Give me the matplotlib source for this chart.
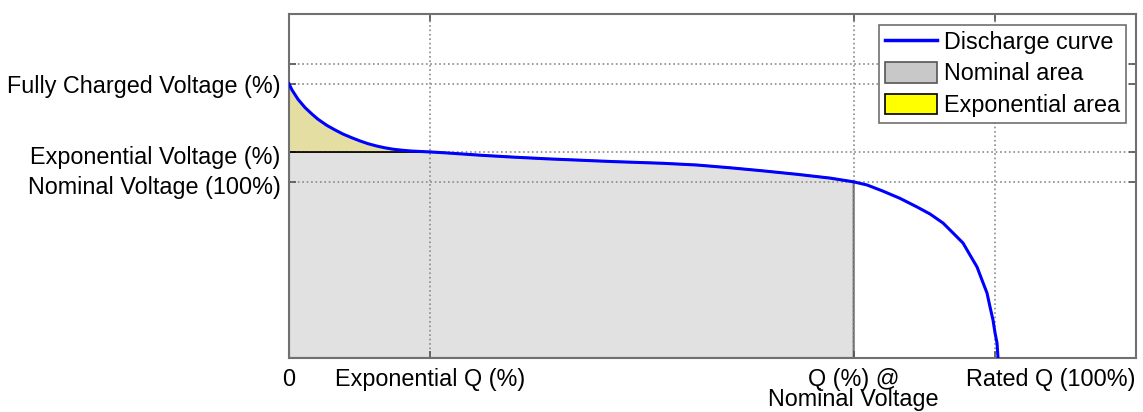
import matplotlib
matplotlib.use("Agg")
import matplotlib.pyplot as plt
from matplotlib.patches import Patch
from matplotlib.lines import Line2D
from matplotlib.transforms import ScaledTranslation

plt.rcParams['font.family'] = ['Liberation Sans', 'DejaVu Sans']

# ── discharge curve (capacity as fraction, voltage in % of axis span) ──
q_curve = [0.0, 0.0043, 0.0128, 0.0227, 0.0326, 0.0411, 0.0538, 0.0652,
           0.0765, 0.0893, 0.1006, 0.1119, 0.1247, 0.1360, 0.1473, 0.1601,
           0.1743, 0.2,
           0.2210, 0.2423, 0.2749, 0.3174, 0.3655, 0.4123, 0.4590, 0.5299,
           0.5780, 0.6248, 0.6716, 0.7197, 0.7665, 0.8,
           0.8189, 0.8416, 0.8657, 0.8898, 0.9082, 0.9266, 0.9408, 0.9549,
           0.9648, 0.9748, 0.9818, 0.9889, 0.9932, 0.9974, 1.0003, 1.0031,
           1.0045]
v_curve = [79.7, 77.9, 75.2, 72.8, 70.9, 69.4, 67.6, 66.3,
           65.1, 64.0, 63.1, 62.3, 61.6, 61.1, 60.7, 60.4,
           60.15, 59.9,
           59.65, 59.35, 58.9, 58.4, 57.9, 57.5, 57.1, 56.6,
           56.10, 55.3, 54.4, 53.4, 52.3, 51.2,
           50.3, 48.5, 46.4, 43.90, 41.86, 39.24, 36.34, 33.43,
           29.94, 26.45, 22.67, 18.90, 14.83, 11.05, 7.27, 4.36,
           0.0]

# characteristic points
Q_EXP, Q_NOM, Q_RATED = 0.2, 0.8, 1.0
V_NOM, V_EXP, V_FULL, V_TOP_TICK = 51.2, 59.9, 79.7, 85.5

x_ticks = [0, Q_EXP, Q_NOM, Q_RATED]
x_labels = ['0', 'Exponential Q (%)', 'Q (%) @\nNominal Voltage', 'Rated Q (100%)']
y_ticks = [V_NOM, V_EXP, V_FULL, V_TOP_TICK]
y_labels = ['Nominal Voltage (100%)', 'Exponential Voltage (%)',
            'Fully Charged Voltage (%)', '']
FS = 16.8

fig = plt.figure(figsize=(11.43, 4.12), dpi=100)
ax = fig.add_axes([289 / 1143, 54 / 412, 847 / 1143, 344 / 412])

# nominal area: under the exp. voltage up to Q_EXP, then under the curve to Q_NOM
i_exp = q_curve.index(Q_EXP)
i_nom = q_curve.index(Q_NOM)
nom_x = [0, 0] + q_curve[i_exp:i_nom + 1] + [Q_NOM]
nom_y = [0, V_EXP] + v_curve[i_exp:i_nom + 1] + [0]
ax.fill(nom_x, nom_y, facecolor='#e1e1e1', edgecolor='#6a6a6a', linewidth=1.5, zorder=1)

# exponential area: between curve and exp. voltage
ax.fill_between(q_curve[:i_exp + 1], v_curve[:i_exp + 1], V_EXP,
                facecolor='#e4dea3', edgecolor='none', zorder=1)
ax.plot([0, Q_EXP], [V_EXP, V_EXP], color='black', linewidth=1.2, zorder=1.8)

ax.plot(q_curve, v_curve, color='#0000ff', linewidth=2.2, zorder=3,
        solid_joinstyle='round')

ax.set_xlim(0, 1.2)
ax.set_ylim(0, 100)
ax.set_xticks(x_ticks)
ax.set_xticklabels(x_labels, fontsize=FS, linespacing=0.85)
ax.set_yticks(y_ticks)
ax.set_yticklabels(y_labels, fontsize=FS)
ax.tick_params(direction='in', length=5, width=1.2, color='#555555',
               top=True, right=True)
ax.tick_params(axis='x', pad=7)
ax.tick_params(axis='y', pad=6)
ax.grid(True, linestyle=':', color='#8a8a8a', linewidth=1.2)
for s in ax.spines.values():
    s.set_color('#707070')
    s.set_linewidth(1.5)

# last x label sits to the right of its tick
lbl = ax.get_xticklabels()[-1]
lbl.set_transform(lbl.get_transform() + ScaledTranslation(0.56, 0, fig.dpi_scale_trans))
# y labels sit a touch low
for lbl in ax.get_yticklabels()[:2]:
    lbl.set_transform(lbl.get_transform() + ScaledTranslation(0, -0.03, fig.dpi_scale_trans))

handles = [
    Line2D([0], [0], color='#0000ff', linewidth=2.5),
    Patch(facecolor='#c8c8c8', edgecolor='#555555', linewidth=1.2),
    Patch(facecolor='#ffff00', edgecolor='black', linewidth=1.2),
]
leg = ax.legend(handles, ['Discharge curve', 'Nominal area', 'Exponential area'],
                loc='upper right', fontsize=FS, fancybox=False, framealpha=1,
                edgecolor='#707070', handlelength=2.2, handleheight=1.0,
                handletextpad=0.3, labelspacing=0.35, borderpad=0.25,
                borderaxespad=0.45)
leg.get_frame().set_linewidth(1.2)
leg.set_zorder(5)

fig.savefig('out.png', dpi=100)
